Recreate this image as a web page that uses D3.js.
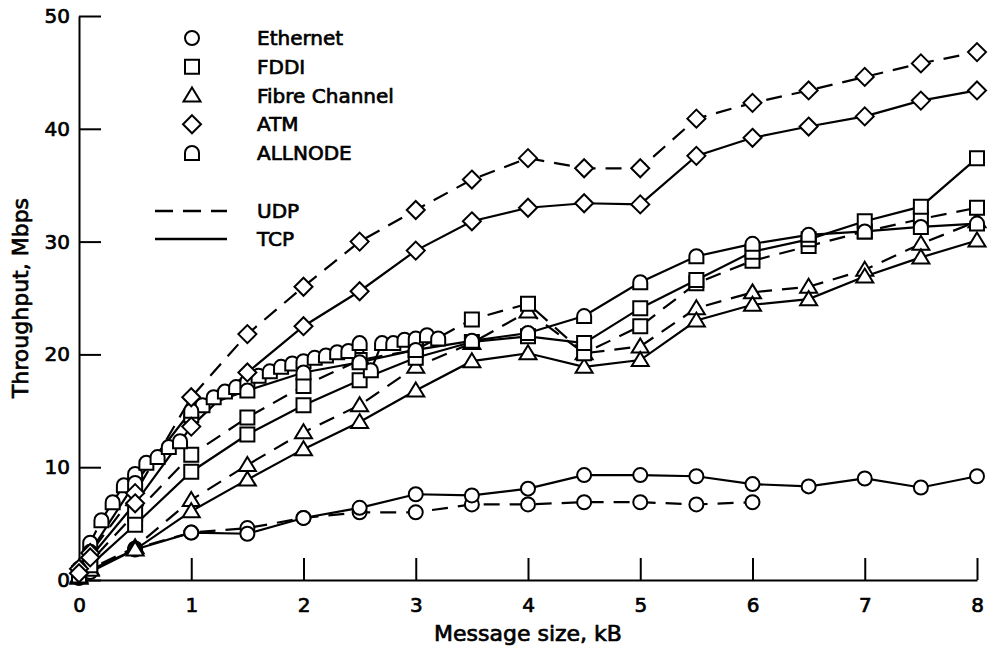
<!DOCTYPE html>
<html>
<head>
<meta charset="utf-8">
<script src="https://cdn.jsdelivr.net/npm/d3@7"></script>
<style>
  html, body { margin: 0; padding: 0; background: #fff; }
  svg { display: block; }
  text { font-family: "DejaVu Sans", sans-serif; fill: #000; }
</style>
</head>
<body>
<svg id="chart" width="993" height="648"></svg>
<script>
// Message sizes (kB) at which each network was measured
const sizesStd = [0, 0.1, 0.5, 1, 1.5, 2, 2.5, 3, 3.5, 4, 4.5, 5, 5.5, 6, 6.5, 7, 7.5, 8];
const sizesEthUdp = [0, 0.1, 0.5, 1, 1.5, 2, 2.5, 3, 3.5, 4, 4.5, 5, 5.5, 6];
const sizesFine = [0, 0.1, 0.2, 0.3, 0.4, 0.5, 0.6, 0.7, 0.8, 0.9, 1.0, 1.1, 1.2, 1.3, 1.4, 1.5,
                   1.6, 1.7, 1.8, 1.9, 2.0, 2.1, 2.2, 2.3, 2.4, 2.5, 2.6, 2.7, 2.8, 2.9, 3.0, 3.1, 3.2];

// Throughput, Mbps
const ethernetUdp = [0.2, 0.8, 2.8, 4.2, 4.6, 5.5, 6.0, 6.0, 6.7, 6.7, 6.9, 6.9, 6.7, 6.9];
const ethernetTcp = [0.2, 0.7, 2.7, 4.2, 4.1, 5.5, 6.4, 7.6, 7.5, 8.1, 9.3, 9.3, 9.2, 8.5, 8.3, 9.0, 8.2, 9.2];
const fddiUdp     = [0.6, 1.6, 5.9, 11.1, 14.4, 17.2, 19.5, 20.4, 23.1, 24.5, 20.1, 22.5, 26.3, 28.3, 29.6, 30.9, 32.0, 33.0];
const fddiTcp     = [0.4, 1.3, 4.9, 9.6, 12.9, 15.5, 17.7, 19.7, 21.1, 21.6, 21.0, 24.1, 26.6, 29.1, 30.2, 31.8, 33.1, 37.4];
const fcUdp       = [0.3, 1.0, 2.9, 7.1, 10.2, 13.1, 15.5, 18.9, 21.0, 23.8, 20.1, 20.7, 24.1, 25.5, 26.0, 27.5, 29.8, 31.8];
const fcTcp       = [0.2, 0.9, 2.7, 6.1, 8.9, 11.6, 14.0, 16.8, 19.4, 20.1, 18.9, 19.5, 23.0, 24.4, 24.9, 26.9, 28.6, 30.1];
const atmUdp      = [1.0, 2.4, 7.7, 16.2, 21.8, 26.0, 30.0, 32.8, 35.5, 37.4, 36.5, 36.5, 40.9, 42.3, 43.4, 44.6, 45.8, 46.8];
const atmTcp      = [0.6, 2.0, 6.8, 13.6, 18.4, 22.5, 25.6, 29.2, 31.8, 33.0, 33.4, 33.3, 37.6, 39.2, 40.2, 41.1, 42.5, 43.4];
const allnodeUdp  = [1.0, 3.3, 5.3, 6.9, 8.4, 9.4, 10.4, 10.9, 11.8, 12.3, 14.6, 15.5, 16.2, 16.7, 17.1, 17.6,
                     18.1, 18.5, 18.9, 19.2, 19.4, 19.7, 19.9, 20.2, 20.3, 21.0, 18.6, 21.0, 21.0, 21.3, 21.4, 21.7, 21.4];
const allnodeTcp  = [0.9, 2.5, 8.6, 15.0, 16.8, 18.4, 19.3, 20.4, 21.2, 21.9, 23.4, 26.4, 28.7, 29.8, 30.6, 30.9, 31.3, 31.6];

const networks = ["Ethernet", "FDDI", "Fibre Channel", "ATM", "ALLNODE"];
const protocols = ["UDP", "TCP"];
const xTicks = [0, 1, 2, 3, 4, 5, 6, 7, 8];
const yTicks = [0, 10, 20, 30, 40, 50];

const series = [
  { net: "Ethernet", proto: "UDP", xs: sizesEthUdp, ys: ethernetUdp },
  { net: "Ethernet", proto: "TCP", xs: sizesStd, ys: ethernetTcp },
  { net: "Fibre Channel", proto: "UDP", xs: sizesStd, ys: fcUdp },
  { net: "Fibre Channel", proto: "TCP", xs: sizesStd, ys: fcTcp },
  { net: "FDDI", proto: "UDP", xs: sizesStd, ys: fddiUdp },
  { net: "FDDI", proto: "TCP", xs: sizesStd, ys: fddiTcp },
  { net: "ALLNODE", proto: "UDP", xs: sizesFine, ys: allnodeUdp },
  { net: "ALLNODE", proto: "TCP", xs: sizesStd, ys: allnodeTcp },
  { net: "ATM", proto: "UDP", xs: sizesStd, ys: atmUdp },
  { net: "ATM", proto: "TCP", xs: sizesStd, ys: atmTcp }
];

const svg = d3.select("#chart");
const x = d3.scaleLinear().domain([0, 8]).range([79, 977]);
const y = d3.scaleLinear().domain([0, 50]).range([580, 16]);

// Marker shapes, one per network
const shapePath = {
  "Ethernet": "M-7,0A7,7 0 1 1 7,0A7,7 0 1 1 -7,0Z",
  "FDDI": "M-7,-7L7,-7L7,7L-7,7Z",
  "Fibre Channel": "M0,-8L8.5,6L-8.5,6Z",
  "ATM": "M0,-9L9,0L0,9L-9,0Z",
  "ALLNODE": "M-7,7L-7,0A7,7 0 0 1 7,0L7,7Z"
};
const dashFor = { UDP: "16,10", TCP: null };

const ink = "#000";
const lineW = 2.2;
const textStroke = 0.7;

// Axes: ticks point into the plot area
const yAxis = d3.axisLeft(y).tickValues(yTicks).tickSizeInner(-22).tickSizeOuter(0).tickPadding(9);
const xAxis = d3.axisBottom(x).tickValues(xTicks).tickSizeInner(-22).tickSizeOuter(0).tickPadding(18);

const gy = svg.append("g").attr("transform", `translate(${x(0)},0)`).call(yAxis);
const gx = svg.append("g").attr("transform", `translate(0,${y(0)})`).call(xAxis);
[gx, gy].forEach(g => {
  g.selectAll("path.domain").attr("stroke", ink).attr("stroke-width", 2);
  g.selectAll(".tick line").attr("stroke", ink).attr("stroke-width", 2);
  g.selectAll(".tick text")
    .attr("font-family", "DejaVu Sans, sans-serif")
    .attr("font-size", 20)
    .attr("fill", ink)
    .attr("stroke", ink).attr("stroke-width", textStroke);
});

svg.append("text")
  .attr("transform", `translate(28,${(y(0) + y(50)) / 2}) rotate(-90)`)
  .attr("text-anchor", "middle")
  .attr("font-size", 22)
  .attr("stroke", ink).attr("stroke-width", textStroke)
  .text("Throughput, Mbps");

svg.append("text")
  .attr("x", (x(0) + x(8)) / 2)
  .attr("y", 641)
  .attr("text-anchor", "middle")
  .attr("font-size", 22)
  .attr("stroke", ink).attr("stroke-width", textStroke)
  .text("Message size, kB");

// Lines
const line = d3.line().x(d => x(d[0])).y(d => y(d[1]));
const plot = svg.append("g");
series.forEach(s => {
  const pts = s.xs.map((v, i) => [v, s.ys[i]]);
  plot.append("path")
    .datum(pts)
    .attr("d", line)
    .attr("fill", "none")
    .attr("stroke", ink)
    .attr("stroke-width", lineW)
    .attr("stroke-dasharray", dashFor[s.proto]);
});

// Markers
series.forEach(s => {
  const pts = s.xs.map((v, i) => [v, s.ys[i]]);
  plot.append("g").selectAll("path")
    .data(pts)
    .join("path")
    .attr("d", shapePath[s.net])
    .attr("transform", d => `translate(${x(d[0])},${y(d[1])})`)
    .attr("fill", "#fff")
    .attr("stroke", ink)
    .attr("stroke-width", 2);
});

// Legend
const legend = svg.append("g");
const legRowY = d3.scalePoint().domain(networks).range([38, 153]);
networks.forEach(n => {
  legend.append("path")
    .attr("d", shapePath[n])
    .attr("transform", `translate(192,${legRowY(n)})`)
    .attr("fill", "#fff").attr("stroke", ink).attr("stroke-width", 2);
  legend.append("text")
    .attr("x", 257).attr("y", legRowY(n) + 7)
    .attr("font-size", 20)
    .attr("stroke", ink).attr("stroke-width", textStroke)
    .text(n);
});
const protoRowY = d3.scalePoint().domain(protocols).range([211, 239]);
protocols.forEach(p => {
  legend.append("line")
    .attr("x1", 155).attr("x2", 227)
    .attr("y1", protoRowY(p)).attr("y2", protoRowY(p))
    .attr("stroke", ink).attr("stroke-width", 2.5)
    .attr("stroke-dasharray", p === "UDP" ? "18,10" : null);
  legend.append("text")
    .attr("x", 257).attr("y", protoRowY(p) + 7)
    .attr("font-size", 20)
    .attr("stroke", ink).attr("stroke-width", textStroke)
    .text(p);
});
</script>
</body>
</html>
